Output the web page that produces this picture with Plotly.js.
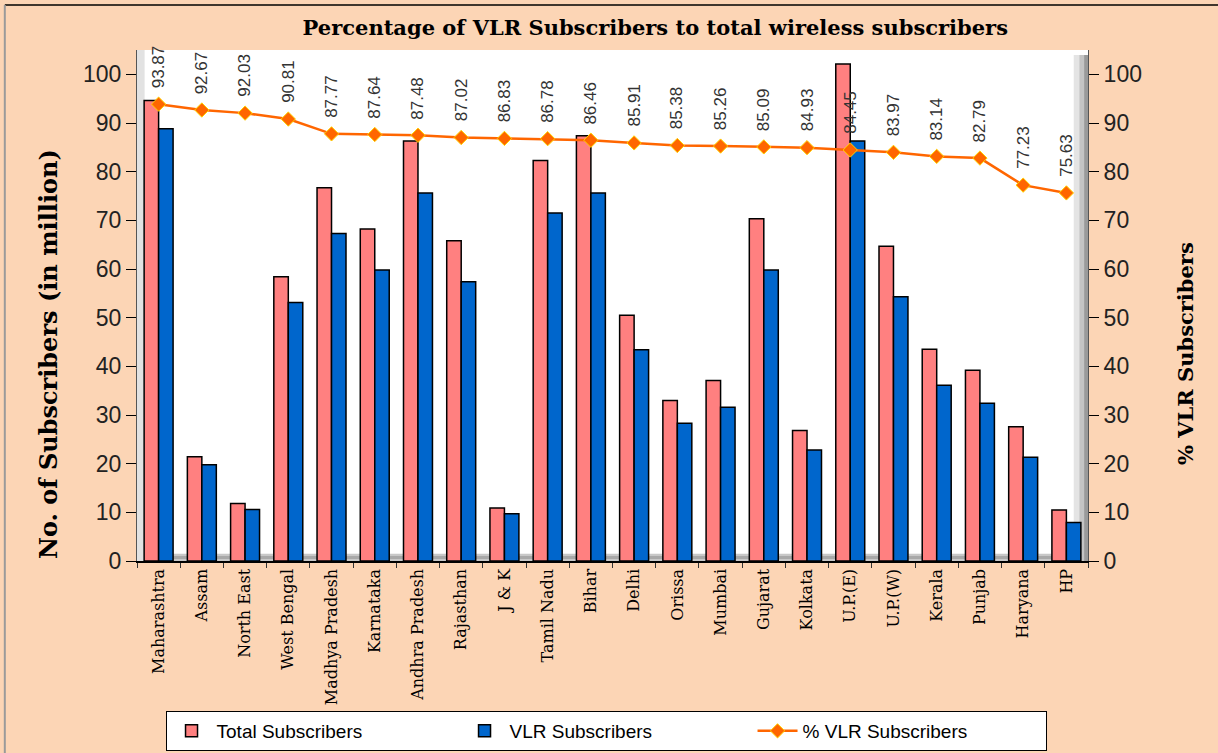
<!DOCTYPE html>
<html>
<head>
<meta charset="utf-8">
<script src="https://cdn.plot.ly/plotly-3.0.1.min.js"></script>
<style>
  html, body { margin: 0; padding: 0; background: #FCD5B5; }
  #chart { width: 1218px; height: 753px; }
</style>
</head>
<body>
<div id="chart"></div>
<script>
const circles = ["Maharashtra", "Assam", "North East", "West Bengal", "Madhya Pradesh", "Karnataka",
  "Andhra Pradesh", "Rajasthan", "J & K", "Tamil Nadu", "Bihar", "Delhi", "Orissa", "Mumbai",
  "Gujarat", "Kolkata", "U.P.(E)", "U.P.(W)", "Kerala", "Punjab", "Haryana", "HP"];
const totalSubscribers = [94.6, 21.4, 11.8, 58.4, 76.7, 68.2, 86.3, 65.8, 10.9, 82.3, 87.4, 50.5,
  33.0, 37.1, 70.3, 26.8, 102.1, 64.7, 43.5, 39.2, 27.6, 10.5];
const vlrSubscribers = [88.8, 19.8, 10.6, 53.1, 67.3, 59.8, 75.6, 57.4, 9.7, 71.5, 75.6, 43.4,
  28.3, 31.6, 59.8, 22.8, 86.3, 54.3, 36.1, 32.4, 21.3, 7.9];
const vlrPercent = [93.87, 92.67, 92.03, 90.81, 87.77, 87.64, 87.48, 87.02, 86.83, 86.78, 86.46,
  85.91, 85.38, 85.26, 85.09, 84.93, 84.45, 83.97, 83.14, 82.79, 77.23, 75.63];
const yTicks = [0, 10, 20, 30, 40, 50, 60, 70, 80, 90, 100];
const leftAxisTitle = 'No. of Subscribers (in million)';
const rightAxisTitle = '% VLR Subscribers';

const traces = [
  {
    type: 'bar', name: 'Total Subscribers', x: circles, y: totalSubscribers,
    marker: { color: '#FF8080', line: { color: '#000000', width: 1.5 } }
  },
  {
    type: 'bar', name: 'VLR Subscribers', x: circles, y: vlrSubscribers,
    marker: { color: '#0066CC', line: { color: '#000000', width: 1.5 } }
  },
  {
    type: 'scatter', mode: 'lines+markers', name: '% VLR Subscribers', x: circles, y: vlrPercent,
    yaxis: 'y2',
    line: { color: '#FF6600', width: 2.5 },
    marker: { symbol: 'diamond', size: 11, color: '#FF6600', line: { color: '#FFD200', width: 1 } }
  }
];

const titleFont = { family: 'DejaVu Serif, serif', color: '#000000', weight: 'bold' };

const annotations = circles.map((c, i) => ({
  x: c, y: vlrPercent[i], xref: 'x', yref: 'y2',
  text: vlrPercent[i].toFixed(2), showarrow: false, textangle: -90,
  xanchor: 'center', yanchor: 'bottom', yshift: 14,
  font: { family: 'Arial, Liberation Sans, sans-serif', size: 17, color: '#333333' }
})).concat([
  { text: leftAxisTitle, xref: 'paper', yref: 'paper', x: -0.0936, y: 0.405,
    xanchor: 'center', yanchor: 'middle', textangle: -90, showarrow: false,
    font: Object.assign({ size: 24 }, titleFont) },
  { text: rightAxisTitle, xref: 'paper', yref: 'paper', x: 1.102, y: 0.405,
    xanchor: 'center', yanchor: 'middle', textangle: -90, showarrow: false,
    font: Object.assign({ size: 21 }, titleFont) }
]);

const shapes = [
  // floor of the 3D plot area
  { type: 'rect', xref: 'paper', yref: 'paper', x0: 0, x1: 1, y0: 0, y1: 0.014,
    fillcolor: '#C8C8C8', line: { width: 0 }, layer: 'below' },
  { type: 'rect', xref: 'paper', yref: 'paper', x0: 0, x1: 1, y0: 0.004, y1: 0.01,
    fillcolor: '#A8A8A8', line: { width: 0 }, layer: 'below' },
  // left wall
  { type: 'rect', xref: 'paper', yref: 'paper', x0: 0, x1: 0.008, y0: 0, y1: 1,
    fillcolor: '#E2E2E2', line: { width: 0 }, layer: 'below' },
  // right shadow
  { type: 'rect', xref: 'paper', yref: 'paper', x0: 0.985, x1: 1, y0: 0, y1: 0.99,
    fillcolor: '#E4E4E4', line: { width: 0 }, layer: 'below' },
  { type: 'rect', xref: 'paper', yref: 'paper', x0: 0.991, x1: 1, y0: 0, y1: 0.99,
    fillcolor: '#C4C4C4', line: { width: 0 }, layer: 'below' },
  { type: 'rect', xref: 'paper', yref: 'paper', x0: 0.996, x1: 1, y0: 0, y1: 0.99,
    fillcolor: '#9A9A9A', line: { width: 0 }, layer: 'below' },
  // chart frame
  { type: 'line', xref: 'paper', yref: 'paper', x0: -0.139, x1: 1.14, y0: 1.088, y1: 1.088,
    line: { color: '#000000', width: 1.5 } },
  { type: 'line', xref: 'paper', yref: 'paper', x0: -0.139, x1: -0.139, y0: -0.38, y1: 1.088,
    line: { color: '#9A9A9A', width: 2 } }
];

const layout = {
  width: 1218, height: 753,
  paper_bgcolor: '#FCD5B5', plot_bgcolor: '#FFFFFF',
  margin: { l: 137, r: 130, t: 50, b: 192, autoexpand: false },
  title: {
    text: 'Percentage of VLR Subscribers to total wireless subscribers',
    font: Object.assign({ size: 21 }, titleFont),
    x: 0.538, xref: 'container', xanchor: 'center', y: 0.963, yanchor: 'middle'
  },
  barmode: 'group', bargap: 0.33, bargroupgap: 0,
  showlegend: true,
  legend: {
    orientation: 'h', x: 0.03, xanchor: 'left', y: -0.2935, yanchor: 'top',
    bgcolor: '#FFFFFF', bordercolor: '#000000', borderwidth: 1,
    entrywidth: 238, entrywidthmode: 'pixels', itemwidth: 40,
    font: { family: 'Arial, Liberation Sans, sans-serif', size: 19, color: '#000000' },
    traceorder: 'normal'
  },
  xaxis: {
    type: 'category', range: [-0.5, 21.5], tickangle: -90, tickson: 'boundaries',
    ticks: 'outside', ticklen: 5, tickcolor: '#333333', automargin: false,
    showline: true, linecolor: '#000000', linewidth: 1.5,
    tickfont: { family: 'DejaVu Serif, serif', size: 16, color: '#000000' },
    showgrid: false, fixedrange: true
  },
  yaxis: {
    range: [0, 105], tickvals: yTicks, ticks: 'outside', ticklen: 10, tickcolor: '#000000',
    showline: true, linecolor: '#555555', linewidth: 1, automargin: false,
    showgrid: false, zeroline: false,
    tickfont: { family: 'Arial, Liberation Sans, sans-serif', size: 23, color: '#222222' }
  },
  yaxis2: {
    overlaying: 'y', side: 'right', range: [0, 105], tickvals: yTicks,
    ticks: 'outside', ticklen: 10, tickcolor: '#000000', automargin: false,
    showline: true, linecolor: '#555555', linewidth: 1,
    showgrid: false, zeroline: false,
    tickfont: { family: 'Arial, Liberation Sans, sans-serif', size: 23, color: '#222222' }
  },
  annotations: annotations,
  shapes: shapes
};

Plotly.newPlot('chart', traces, layout, { displayModeBar: false, staticPlot: true });
</script>
</body>
</html>
